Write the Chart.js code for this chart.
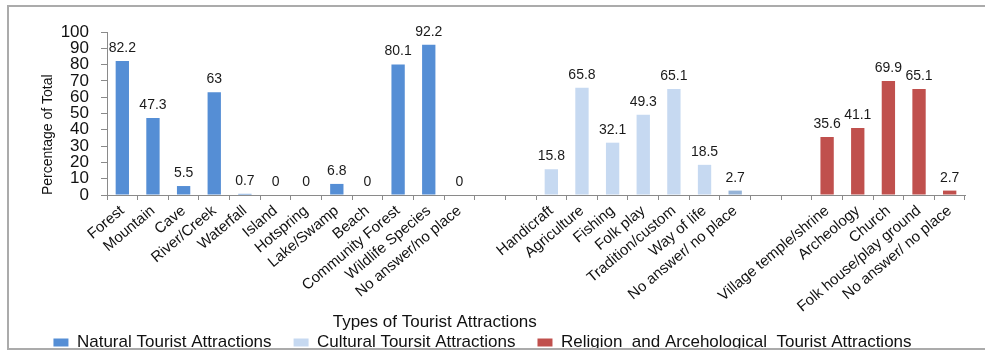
<!DOCTYPE html>
<html><head><meta charset="utf-8">
<script src="https://cdn.jsdelivr.net/npm/chart.js@4.4.1/dist/chart.umd.min.js"></script>
<style>
html,body{margin:0;padding:0;background:#fff;overflow:hidden;width:985px;height:351px;}
#wrap{position:relative;width:985px;height:351px;overflow:hidden;}
canvas{position:absolute;left:0;top:0;}
#below{position:absolute;left:0;top:350px;width:985px;height:12px;background:#fff;}
#frame{position:absolute;left:7px;top:5px;width:1100px;height:345px;box-sizing:border-box;border:2px solid #ababab;pointer-events:none;}
</style></head><body>
<div id="wrap"><canvas id="c" width="985" height="361"></canvas><div id="below"></div><div id="frame"></div></div>
<script>
// ---- data ----
const naturalLabels = ["Forest","Mountain","Cave","River/Creek","Waterfall","Island","Hotspring","Lake/Swamp","Beach","Community Forest","Wildlife Species","No answer/no place"];
const naturalValues = [82.2,47.3,5.5,63,0.7,0,0,6.8,0,80.1,92.2,0];
const culturalLabels = ["Handicraft","Agriculture","Fishing","Folk play","Tradition/custom","Way of life","No answer/ no place"];
const culturalValues = [15.8,65.8,32.1,49.3,65.1,18.5,2.7];
const religionLabels = ["Village temple/shrine","Archeology","Church","Folk house/play ground","No answer/ no place"];
const religionValues = [35.6,41.1,69.9,65.1,2.7];
const gapLabels = ["",""];
const seriesNames = ["Natural Tourist Attractions","Cultural Toursit Attractions","Religion  and Arcehological  Tourist Attractions"];
const yTicks = [0,10,20,30,40,50,60,70,80,90,100];
const yTitle = "Percentage of Total";
const xTitle = "Types of Tourist Attractions";

// ---- build category table ----
const categories = [...naturalLabels, ...gapLabels, ...culturalLabels, ...gapLabels, ...religionLabels];
const nCat = categories.length;
function placed(values, start){
  const arr = new Array(nCat).fill(null);
  values.forEach((v,i)=>{arr[start+i]=v;});
  return arr;
}
const natStart = 0;
const culStart = naturalLabels.length + gapLabels.length;
const relStart = culStart + culturalLabels.length + gapLabels.length;

const FONT = "'Liberation Sans', Arial, sans-serif";
Chart.defaults.font.family = FONT;
Chart.defaults.color = '#111';

const valueLabels = {
  id:'valueLabels',
  afterDatasetsDraw(chart){
    const ctx = chart.ctx;
    ctx.save();
    ctx.font = "14px " + FONT;
    ctx.fillStyle = '#1a1a1a';
    ctx.textAlign = 'center';
    ctx.textBaseline = 'alphabetic';
    chart.data.datasets.forEach((ds,i)=>{
      const meta = chart.getDatasetMeta(i);
      meta.data.forEach((bar,j)=>{
        const v = ds.data[j];
        if (v === null || v === undefined) return;
        ctx.fillText(String(v), bar.x, bar.y - 9);
      });
    });
    ctx.restore();
  }
};
const xTitlePlugin = {
  id:'xTitlePlugin',
  afterDraw(chart){
    const ctx = chart.ctx, a = chart.chartArea;
    ctx.save();
    ctx.font = "17px " + FONT;
    ctx.fillStyle = '#111';
    ctx.textAlign = 'center';
    ctx.textBaseline = 'alphabetic';
    ctx.fillText(xTitle, a.left + (a.right - a.left) * 0.382, 327);
    ctx.restore();
  }
};

const culDark = culStart + culturalLabels.length - 1;
new Chart(document.getElementById('c'), {
  type:'bar',
  data:{
    labels: categories,
    datasets:[
      {label: seriesNames[0], data: placed(naturalValues, natStart), backgroundColor:'#558ED5'},
      {label: seriesNames[1], data: placed(culturalValues, culStart),
        backgroundColor:(c)=> (c.type==='data' && c.dataIndex===culDark) ? '#95B3D7' : '#C6D9F1'},
      {label: seriesNames[2], data: placed(religionValues, relStart), backgroundColor:'#C0504D'}
    ]
  },
  options:{
    responsive:false,
    animation:false,
    events:[],
    layout:{padding:{left:0,right:20,top:32,bottom:0}},
    datasets:{bar:{grouped:false, barPercentage:0.435, categoryPercentage:1.0, borderWidth:0}},
    scales:{
      x:{
        offset:true,
        grid:{display:true, drawOnChartArea:false, drawTicks:true, tickLength:5, color:'#8a8a8a', offset:true},
        border:{display:true, color:'#8a8a8a', width:1},
        ticks:{autoSkip:false, minRotation:40, maxRotation:40, padding:2, color:'#111', font:{size:15}},
        afterFit(s){ s.height = 117; }
      },
      y:{
        min:0, max:100,
        afterBuildTicks(s){ s.ticks = yTicks.map(v=>({value:v})); },
        grid:{display:true, drawOnChartArea:false, drawTicks:true, tickLength:6, color:'#8a8a8a'},
        border:{display:true, color:'#8a8a8a', width:1},
        ticks:{autoSkip:false, padding:12, color:'#111', font:{size:17, lineHeight:1}},
        title:{display:true, text:yTitle, align:'start', color:'#111', font:{size:14}, padding:{top:40,bottom:0}},
        afterFit(s){ s.width = 107; }
      }
    },
    plugins:{
      legend:{
        position:'bottom',
        labels:{boxWidth:15, boxHeight:8, padding:22, color:'#111', font:{size:17}}
      },
      tooltip:{enabled:false}
    }
  },
  plugins:[valueLabels, xTitlePlugin]
});
</script>
</body></html>
